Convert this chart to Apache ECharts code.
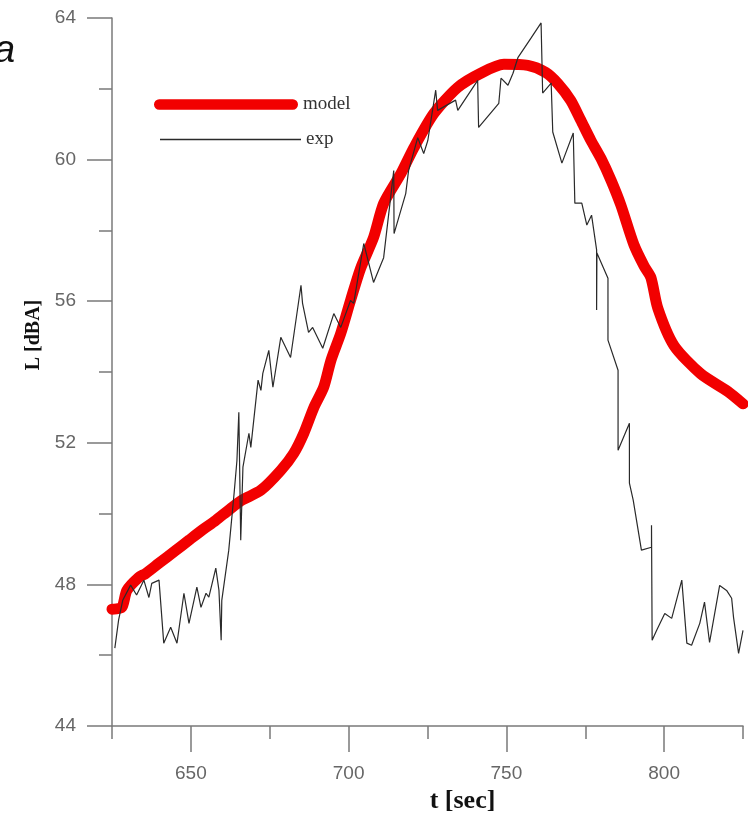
<!DOCTYPE html>
<html>
<head>
<meta charset="utf-8">
<script src="https://cdn.jsdelivr.net/npm/echarts@6/dist/echarts.min.js"></script>
<style>html,body{margin:0;padding:0;background:#fff;}#c{width:748px;height:814px;}</style>
</head>
<body>
<div id="c"></div>
<script>
// model curve
const modelT = [625,628.1,629.7,633.5,635.7,639.9,645.2,649.4,653.5,657.9,662.0,666.2,672.2,678.5,682.6,685.8,689.0,692.1,694.4,697.5,700.6,703.8,707.9,711.1,716.6,720.7,727.0,734.6,741.9,749.2,756.8,762.5,766.3,770.4,773.6,776.8,780.0,783.2,786.3,790.4,793.6,795.8,798.0,803.1,811.6,820.2,825];
const modelL = [47.3,47.35,47.83,48.2,48.31,48.6,48.96,49.25,49.53,49.81,50.1,50.38,50.66,51.22,51.7,52.27,53.0,53.57,54.33,55.09,56.02,56.93,57.8,58.76,59.61,60.34,61.3,62.04,62.44,62.69,62.66,62.46,62.15,61.67,61.11,60.54,60.03,59.41,58.71,57.6,57.0,56.67,55.8,54.75,53.95,53.45,53.1];
// experimental curve
const expT = [625.9,627.1,628.4,630.9,632.8,635.1,636.7,637.6,639.9,641.4,643.6,645.6,647.8,649.4,651.9,653.2,654.8,655.7,657.9,658.9,659.6,659.8,662.0,663.7,664.6,665.2,665.8,666.5,668.4,669.0,671.3,672.2,672.8,674.7,676.0,678.5,681.6,684.9,685.4,687.3,688.6,691.8,695.3,697.5,700.6,701.6,704.8,707.9,711.1,714.3,714.4,718.1,719.0,721.9,723.8,725.1,727.6,728.2,733.9,734.6,740.9,741.2,747.6,748.3,750.5,752.1,753.7,757.8,761.0,761.5,764.2,764.7,767.6,771.2,771.7,773.9,775.5,777.0,778.6,778.6,778.7,782.2,782.2,785.4,785.4,789.0,789.0,790.2,792.8,796.0,796.0,796.2,797.6,800.2,802.4,805.6,807.2,808.7,811.3,812.8,814.4,817.6,819.8,821.4,822.0,823.6,825];
const expL = [46.2,47.0,47.55,47.98,47.7,48.12,47.63,48.03,48.12,46.34,46.79,46.34,47.75,46.9,47.92,47.35,47.75,47.64,48.46,47.83,46.42,47.55,48.96,50.57,51.5,52.86,49.25,51.31,52.27,51.87,53.77,53.48,53.96,54.61,53.57,54.98,54.41,56.45,55.94,55.12,55.26,54.67,55.65,55.26,56.02,55.94,57.63,56.53,57.23,59.69,57.91,59.04,59.69,60.62,60.17,60.54,61.96,61.39,61.68,61.39,62.24,60.91,61.59,62.3,62.1,62.44,62.89,63.43,63.86,61.88,62.16,60.78,59.9,60.75,58.77,58.77,58.15,58.43,57.45,55.75,57.36,56.65,54.9,54.05,51.79,52.55,50.86,50.38,48.97,49.05,49.67,46.42,46.7,47.18,47.04,48.12,46.34,46.28,46.9,47.5,46.36,47.97,47.83,47.61,47.07,46.05,46.7];
// ticks
const xMajorTicks = [650,700,750,800];
const xMinorTicks = [625,675,725,775,825];
const seriesNames = ['model','exp'];

const zip = (a,b) => a.map((v,i) => [v,b[i]]);
const axisColor = '#7a7a7a';
const chart = echarts.init(document.getElementById('c'), null, {renderer:'canvas'});
chart.setOption({
  animation:false,
  backgroundColor:'#fff',
  title:{text:'a', left:-11, top:27, textStyle:{fontFamily:'Liberation Sans', fontStyle:'italic', fontWeight:'normal', fontSize:38, color:'#111'}},
  legend:[
    {data:[{name:seriesNames[0], icon:'path://M5,0 L135,0 A5,5 0 0 1 135,10 L5,10 A5,5 0 0 1 5,0 Z'}], left:149, top:90, itemWidth:144, itemHeight:11, itemGap:5, textStyle:{fontFamily:'Liberation Serif', fontSize:19, color:'#333'}},
    {data:[{name:seriesNames[1], icon:'rect'}], left:155, top:125, itemWidth:141, itemHeight:1.5, textStyle:{fontFamily:'Liberation Serif', fontSize:19, color:'#333'}}
  ],
  grid:{left:112, top:18, width:631, height:708, outerBoundsMode:'none'},
  xAxis:[
    {type:'value', min:625, max:825,
     name:'t [sec]', nameLocation:'middle', nameGap:58,
     nameTextStyle:{fontFamily:'Liberation Serif', fontWeight:'bold', fontSize:26, color:'#111', padding:[0,0,0,70]},
     axisLine:{show:true, lineStyle:{color:axisColor, width:1.5}},
     axisTick:{show:true, inside:false, length:26, customValues:xMajorTicks, lineStyle:{color:axisColor, width:1.5}},
     axisLabel:{show:true, customValues:xMajorTicks, margin:38, fontFamily:'Liberation Sans', fontSize:19, color:'#666'},
     splitLine:{show:false}},
    {type:'value', min:625, max:825, position:'bottom', offset:0,
     axisLine:{show:false},
     axisTick:{show:true, inside:false, length:13, customValues:xMinorTicks, lineStyle:{color:axisColor, width:1.5}},
     axisLabel:{show:false}, splitLine:{show:false}}
  ],
  yAxis:{type:'value', min:44, max:64, interval:4,
     name:'L [dBA]', nameLocation:'middle', nameGap:66, nameRotate:90,
     nameTextStyle:{fontFamily:'Liberation Serif', fontWeight:'bold', fontSize:20, color:'#111', padding:[0,0,0,74]},
     axisLine:{show:true, lineStyle:{color:axisColor, width:1.5}},
     axisTick:{show:true, inside:false, length:25, lineStyle:{color:axisColor, width:1.5}},
     minorTick:{show:true, splitNumber:2, length:13, lineStyle:{color:axisColor, width:1.5}},
     axisLabel:{margin:36, fontFamily:'Liberation Sans', fontSize:19, color:'#666'},
     splitLine:{show:false}, minorSplitLine:{show:false}},
  series:[
    {name:seriesNames[0], type:'line', xAxisIndex:0, data:zip(modelT, modelL), showSymbol:false, symbol:'none', smooth:0.25, clip:false,
     color:'#f20000', lineStyle:{color:'#f20000', width:11, cap:'round', join:'round'}, z:2},
    {name:seriesNames[1], type:'line', xAxisIndex:0, data:zip(expT, expL), showSymbol:false, symbol:'none',
     color:'#2a2a2a', lineStyle:{color:'#2a2a2a', width:1.2}, z:3}
  ]
});
</script>
</body>
</html>
